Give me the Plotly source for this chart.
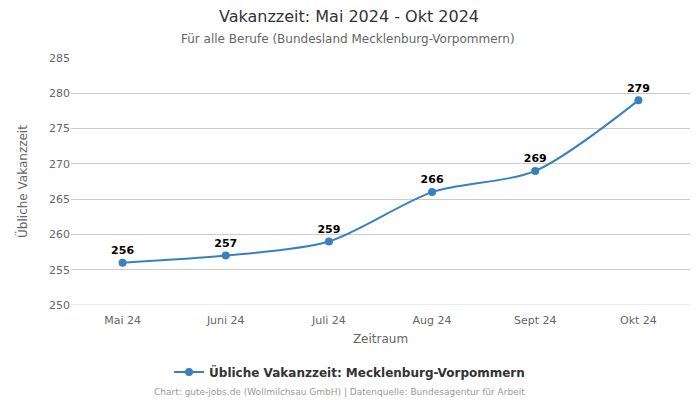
import plotly.graph_objects as go

months = ["Mai 24", "Juni 24", "Juli 24", "Aug 24", "Sept 24", "Okt 24"]
values = [256, 257, 259, 266, 269, 279]
series_name = "Übliche Vakanzzeit: Mecklenburg-Vorpommern"

color = "#3a80bf"
fig = go.Figure()
fig.add_trace(go.Scatter(
    x=months, y=values, mode="lines+markers+text",
    name=series_name,
    line=dict(color=color, width=2, shape="spline", smoothing=0.8),
    marker=dict(color=color, size=8),
    text=[str(v) for v in values], textposition="top center",
    textfont=dict(family="DejaVu Sans", size=11, color="black", weight="bold"),
    cliponaxis=False,
))

fig.update_layout(
    width=700, height=400,
    margin=dict(l=71, r=10, t=58, b=95),
    paper_bgcolor="white", plot_bgcolor="white",
    font=dict(family="DejaVu Sans", color="#666666", size=11),
    xaxis=dict(
        title=dict(text="Zeitraum", font=dict(size=12, color="#666666"), standoff=8),
        range=[-0.5, 5.5], showgrid=False, showline=False,
        ticks="outside", ticklen=5, tickcolor="rgba(0,0,0,0)",
        tickfont=dict(size=11, color="#666666"),
    ),
    yaxis=dict(
        title=dict(text="Übliche Vakanzzeit", font=dict(size=12, color="#666666"), standoff=18),
        range=[250, 285], dtick=5, gridcolor="#cccccc", zeroline=False,
        tickfont=dict(size=11, color="#666666"), showline=False,
    ),
    showlegend=True,
    legend=dict(
        orientation="h", x=0.45, xanchor="center", y=-0.271, yanchor="middle",
        font=dict(size=12, color="#333333", weight="bold"),
    ),
)
fig.add_annotation(
    text="Vakanzzeit: Mai 2024 - Okt 2024",
    xref="paper", yref="paper", x=0.5, y=1.166, xanchor="center", yanchor="middle",
    xshift=-32, showarrow=False, font=dict(size=16, color="#333333"),
)
fig.add_annotation(
    text="Für alle Berufe (Bundesland Mecklenburg-Vorpommern)",
    xref="paper", yref="paper", x=0.5, y=1.077, xanchor="center", yanchor="middle",
    xshift=-33, showarrow=False, font=dict(size=12, color="#666666"),
)
fig.add_annotation(
    text="Chart: gute-jobs.de (Wollmilchsau GmbH) | Datenquelle: Bundesagentur für Arbeit",
    xref="paper", yref="paper", x=0.5, y=-0.352, xanchor="center", yanchor="middle",
    xshift=-41, showarrow=False, font=dict(size=9, color="#999999"),
)
fig.add_shape(type="line", xref="paper", yref="y", x0=0, x1=1, y0=250, y1=250,
              line=dict(color="#ccd6eb", width=1))
fig.write_html("out.html")
